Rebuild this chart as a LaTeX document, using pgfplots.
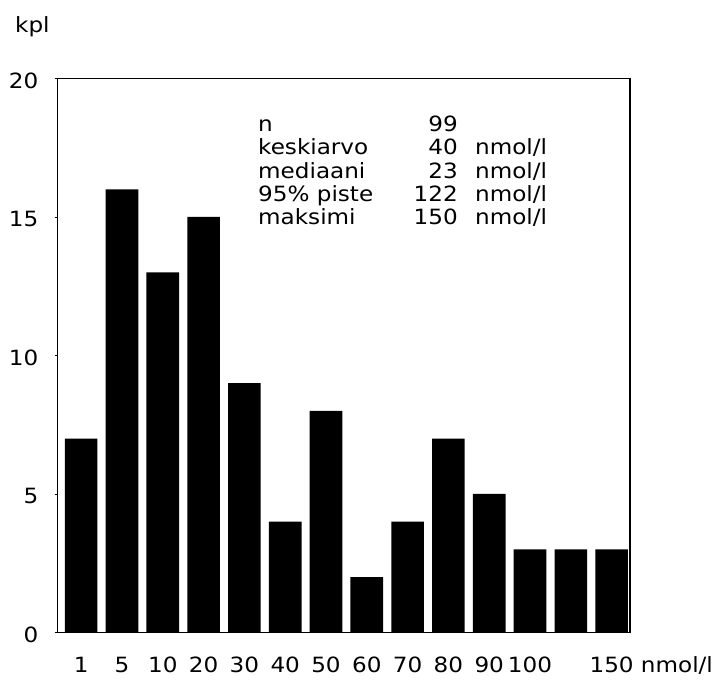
\documentclass[border=0pt]{standalone}
\usepackage{pgfplots}
\pgfplotsset{compat=1.18}
\usepackage{fontspec}
\setmainfont[FakeStretch=1.1]{DejaVu Sans}

% counts per concentration class (nmol/l)
\pgfplotstableread{
x  n
0  7
1  16
2  13
3  15
4  9
5  4
6  8
7  2
8  4
9  7
10 5
11 3
12 3
13 3
}\counts

\begin{document}
\begin{tikzpicture}[x=1pt,y=1pt]
\fontsize{21}{25}\selectfont
\begin{axis}[
  scale only axis,
  width=572.5pt, height=554pt,
  xmin=-0.58, xmax=13.45,
  ymin=0, ymax=20,
  axis line style={line width=1.6pt},
  xtick={0,1,...,13},
  xticklabels={1,5,10,20,30,40,50,60,70,80,90,100,,150\rlap{ nmol/l}},
  xtick style={draw=none},
  ytick={0,5,10,15,20},
  ytick style={line width=0.8pt, black},
  tick align=outside,
  major tick length=3pt,
  tick pos=left,
  ticklabel style={font=\fontsize{21}{25}\selectfont},
  /pgf/number format/assume math mode=true,
  xticklabel style={yshift=-14pt},
  yticklabel style={xshift=-9pt, yshift=-2pt},
  clip=false,
]
\addplot[ybar, bar width=0.8, fill=black, draw=none] table[x=x, y=n] {\counts};
\coordinate (sw) at (rel axis cs:0,0);
\coordinate (ne) at (rel axis cs:1,1);
\end{axis}
\node[anchor=base west, inner sep=0pt] at ([shift={(-42.5pt,599.6pt)}]sw) {kpl};
% summary statistics
\begin{scope}[every node/.style={inner sep=0pt}]
\node[anchor=base west] at ([shift={(200.5pt,501pt)}]sw) {n};
\node[anchor=base east] at ([shift={(400.5pt,501pt)}]sw) {99};
\node[anchor=base west] at ([shift={(200.5pt,477.7pt)}]sw) {keskiarvo};
\node[anchor=base east] at ([shift={(400.5pt,477.7pt)}]sw) {40};
\node[anchor=base west] at ([shift={(417.5pt,477.7pt)}]sw) {nmol/l};
\node[anchor=base west] at ([shift={(200.5pt,454.4pt)}]sw) {mediaani};
\node[anchor=base east] at ([shift={(400.5pt,454.4pt)}]sw) {23};
\node[anchor=base west] at ([shift={(417.5pt,454.4pt)}]sw) {nmol/l};
\node[anchor=base west] at ([shift={(200.5pt,431.1pt)}]sw) {95\% piste};
\node[anchor=base east] at ([shift={(400.5pt,431.1pt)}]sw) {122};
\node[anchor=base west] at ([shift={(417.5pt,431.1pt)}]sw) {nmol/l};
\node[anchor=base west] at ([shift={(200.5pt,407.8pt)}]sw) {maksimi};
\node[anchor=base east] at ([shift={(400.5pt,407.8pt)}]sw) {150};
\node[anchor=base west] at ([shift={(417.5pt,407.8pt)}]sw) {nmol/l};
\end{scope}
\path[use as bounding box] ([shift={(-57.5pt,-44.4pt)}]sw) rectangle ([shift={(89pt,78.5pt)}]ne);
\end{tikzpicture}
\end{document}
